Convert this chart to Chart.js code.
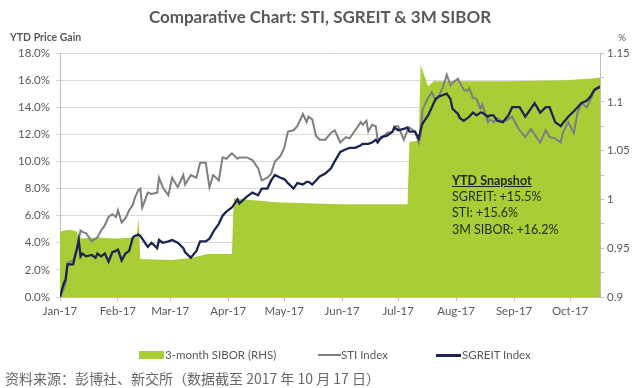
<!DOCTYPE html>
<html><head><meta charset="utf-8">
<script src="https://cdn.jsdelivr.net/npm/chart.js@4.4.1/dist/chart.umd.min.js"></script>
<style>
html,body{margin:0;padding:0;background:#fff;width:640px;height:388px;overflow:hidden;}
#wrap{position:relative;width:640px;height:388px;font-family:Lato,'Noto Sans',sans-serif;}
canvas{position:absolute;left:0;top:0;}
.t{position:absolute;white-space:nowrap;color:#595959;line-height:1;}
.snap{position:absolute;white-space:nowrap;color:#1e2a10;font-size:12.5px;line-height:1;}
.leg{position:absolute;}
</style></head>
<body><div id="wrap"><canvas id="c" width="640" height="388"></canvas>
<div class="t" id="title" style="left:0;width:640px;text-align:center;top:8px;font-size:17px;font-weight:bold;">Comparative Chart: STI, SGREIT &amp; 3M SIBOR</div>
<div class="t" style="left:10px;top:32px;font-size:10.5px;font-weight:bold;">YTD Price Gain</div>
<div class="t" style="left:618px;top:32px;font-size:10px;">%</div>
<div class="snap" style="left:452px;top:175px;font-weight:bold;text-decoration:underline;">YTD Snapshot</div>
<div class="snap" style="left:452px;top:191px;">SGREIT: +15.5%</div>
<div class="snap" style="left:452px;top:207px;">STI: +15.6%</div>
<div class="snap" style="left:452px;top:224px;">3M SIBOR: +16.2%</div>
<div class="leg" style="left:139px;top:351px;width:25px;height:8px;background:#a9cd37;"></div>
<div class="t" style="left:165px;top:349px;font-size:11.5px;">3-month SIBOR (RHS)</div>
<div class="leg" style="left:318px;top:354px;width:23px;height:2px;background:#7f7f7f;"></div>
<div class="t" style="left:341px;top:349px;font-size:11.5px;">STI Index</div>
<div class="leg" style="left:436px;top:354px;width:25px;height:2.5px;background:#1c2452;"></div>
<div class="t" style="left:462px;top:349px;font-size:11.5px;">SGREIT Index</div>
<div class="t" style="left:5px;top:371px;font-size:14px;font-family:'Noto Sans CJK SC',sans-serif;color:#666;">资料来源：彭博社、新交所（数据截至 2017 年 10 月 17 日）</div>
</div>
<script>
// Day index since 1 Jan 2017
const tradingDays = [
 0,2,3,4,7,9,10,11,12,14,17,19,20,22,24,26,28,30,31,33,35,37,39,40,42,43,44,47,49,52,
 53,55,58,60,63,66,67,70,73,75,78,80,82,85,87,89,92,95,96,100,103,106,108,111,113,115,118,120,122,125,
 127,130,132,133,135,137,139,142,145,147,150,153,155,158,161,162,164,165,167,169,170,172,175,178,179,181,184,186,187,190,
 192,193,194,197,199,201,203,205,207,209,210,213,214,216,218,219,221,223,225,226,229,230,232,234,237,240,242,245,246,249,
 252,254,257,260,262,265,268,269,272,275,277,279,282,284,286,289];
const stiGain = [
 0.0,0.6,1.0,2.5,2.7,3.6,4.2,4.9,4.8,4.7,4.1,4.3,4.4,4.9,5.3,5.9,6.1,5.9,6.4,5.5,5.8,6.4,6.8,7.3,7.9,8.0,6.6,7.7,7.6,7.7,
 8.8,8.1,7.5,8.8,8.1,9.0,8.3,9.0,8.8,9.9,9.9,8.1,9.0,8.6,10.3,10.2,10.6,10.2,10.3,10.3,10.1,9.5,8.6,8.8,9.1,10.0,10.4,11.0,12.2,12.3,
 12.6,13.5,12.9,13.3,13.1,11.9,11.6,11.6,12.1,12.3,11.4,11.8,11.7,12.3,12.9,12.7,13.0,12.2,12.7,12.6,11.6,11.7,12.1,12.2,12.6,12.6,11.6,12.3,12.5,12.2,
 11.4,12.0,13.8,14.7,15.1,14.5,14.9,15.5,16.4,15.6,15.8,16.1,15.8,15.3,15.2,15.4,14.7,14.6,13.9,14.2,12.9,13.1,12.9,13.2,12.9,13.1,13.3,12.5,12.3,11.8,
 12.4,12.0,11.4,12.3,11.8,11.7,11.4,12.1,12.9,12.1,13.6,14.3,14.0,14.6,15.2,15.6];
const sgreitGain = [
 0.0,1.0,1.3,2.4,2.4,3.5,4.2,3.0,3.2,3.0,3.1,2.9,3.2,3.0,3.2,2.6,3.3,3.4,3.5,2.7,3.2,3.4,4.4,4.5,4.6,4.5,4.3,3.7,4.0,3.6,
 4.2,4.0,4.1,4.2,4.0,3.6,3.3,2.9,3.4,4.1,4.1,4.3,4.8,5.4,6.0,6.3,6.6,7.2,6.9,7.4,7.7,7.5,8.0,8.0,8.6,9.0,8.8,8.7,8.4,8.0,
 8.4,8.3,8.5,8.5,8.3,8.6,8.9,9.1,9.5,10.0,10.7,10.9,11.0,11.0,11.2,11.3,11.3,11.3,11.4,11.6,11.4,11.8,11.9,12.2,12.5,12.3,12.4,12.5,12.2,12.2,
 11.7,12.3,12.8,13.4,14.0,14.6,14.8,14.9,15.0,14.6,13.9,13.5,13.2,13.0,13.2,13.3,13.6,13.4,13.6,13.6,13.3,13.4,13.4,13.0,12.9,13.4,14.0,14.0,14.0,13.3,
 13.9,14.3,13.6,14.0,14.0,12.9,12.6,12.8,13.3,13.7,14.0,14.3,14.5,14.8,15.3,15.5];
// 3-month SIBOR (%), right axis
const siborDays = [0,5,9,10,21,29,41,42,43,60,70,79,92,93,110,115,150,186,187,192,193,197,200,240,270,285,289];
const siborRate = [0.967,0.969,0.967,0.960,0.961,0.960,0.961,0.981,0.939,0.938,0.940,0.944,0.944,1.001,0.998,0.997,0.995,0.995,1.059,1.060,1.138,1.116,1.121,1.121,1.122,1.124,1.125];

const monthStarts = [0,31,59,90,120,151,181,212,243,273];
const monthLabels = ['Jan-17','Feb-17','Mar-17','Apr-17','May-17','Jun-17','Jul-17','Aug-17','Sep-17','Oct-17'];
const leftTicks = [0,2,4,6,8,10,12,14,16,18];
const rightTicks = [0.9,0.925,0.95,0.975,1.0,1.025,1.05,1.075,1.1,1.125,1.15];
const rightLabels = ['0.9','','0.95','','1','','1.05','','1.1','','1.15'];

const toXY = (xs, ys) => xs.map((x, i) => ({x: x, y: ys[i]}));
const tickFont = {family: 'Lato', size: 11.5};

new Chart(document.getElementById('c'), {
  type: 'line',
  data: {
    datasets: [
      {label: 'SGREIT Index', data: toXY(tradingDays, sgreitGain), yAxisID: 'y', borderColor: '#1c2452', borderWidth: 2.3, pointRadius: 0, tension: 0, fill: false, order: 0},
      {label: 'STI Index', data: toXY(tradingDays, stiGain), yAxisID: 'y', borderColor: '#7f7f7f', borderWidth: 2, pointRadius: 0, tension: 0, fill: false, order: 1},
      {label: '3-month SIBOR (RHS)', data: toXY(siborDays, siborRate), yAxisID: 'y2', borderColor: '#a9cd37', backgroundColor: '#a9cd37', borderWidth: 0, pointRadius: 0, tension: 0, fill: 'start', order: 2}
    ]
  },
  options: {
    responsive: false,
    animation: false,
    events: [],
    layout: {padding: {top: 53, left: 0, right: 0, bottom: 0}},
    plugins: {legend: {display: false}, tooltip: {enabled: false}, title: {display: false}},
    scales: {
      x: {
        type: 'linear', min: 0, max: 289,
        afterBuildTicks: s => { s.ticks = monthStarts.map(v => ({value: v})); },
        afterFit: s => { s.height = 91; },
        ticks: {autoSkip: false, maxRotation: 0, padding: 3, color: '#595959', font: tickFont,
          callback: v => monthLabels[monthStarts.indexOf(v)]},
        grid: {drawOnChartArea: false, drawTicks: true, tickLength: 4, color: '#bfbfbf'},
        border: {color: '#bfbfbf'}
      },
      y: {
        position: 'left', min: 0, max: 18,
        afterBuildTicks: s => { s.ticks = leftTicks.map(v => ({value: v})); },
        afterFit: s => { s.width = 60; },
        ticks: {padding: 6, color: '#595959', font: tickFont, callback: v => v.toFixed(1) + '%'},
        grid: {color: '#d9d9d9', tickLength: 4},
        border: {color: '#bfbfbf'}
      },
      y2: {
        position: 'right', min: 0.9, max: 1.15,
        afterBuildTicks: s => { s.ticks = rightTicks.map(v => ({value: v})); },
        afterFit: s => { s.width = 40; },
        ticks: {padding: 3, color: '#595959', font: tickFont,
          callback: (v, i) => rightLabels[i]},
        grid: {drawOnChartArea: false, tickLength: 4, color: '#bfbfbf'},
        border: {color: '#bfbfbf'}
      }
    }
  }
});
</script>
</body></html>
